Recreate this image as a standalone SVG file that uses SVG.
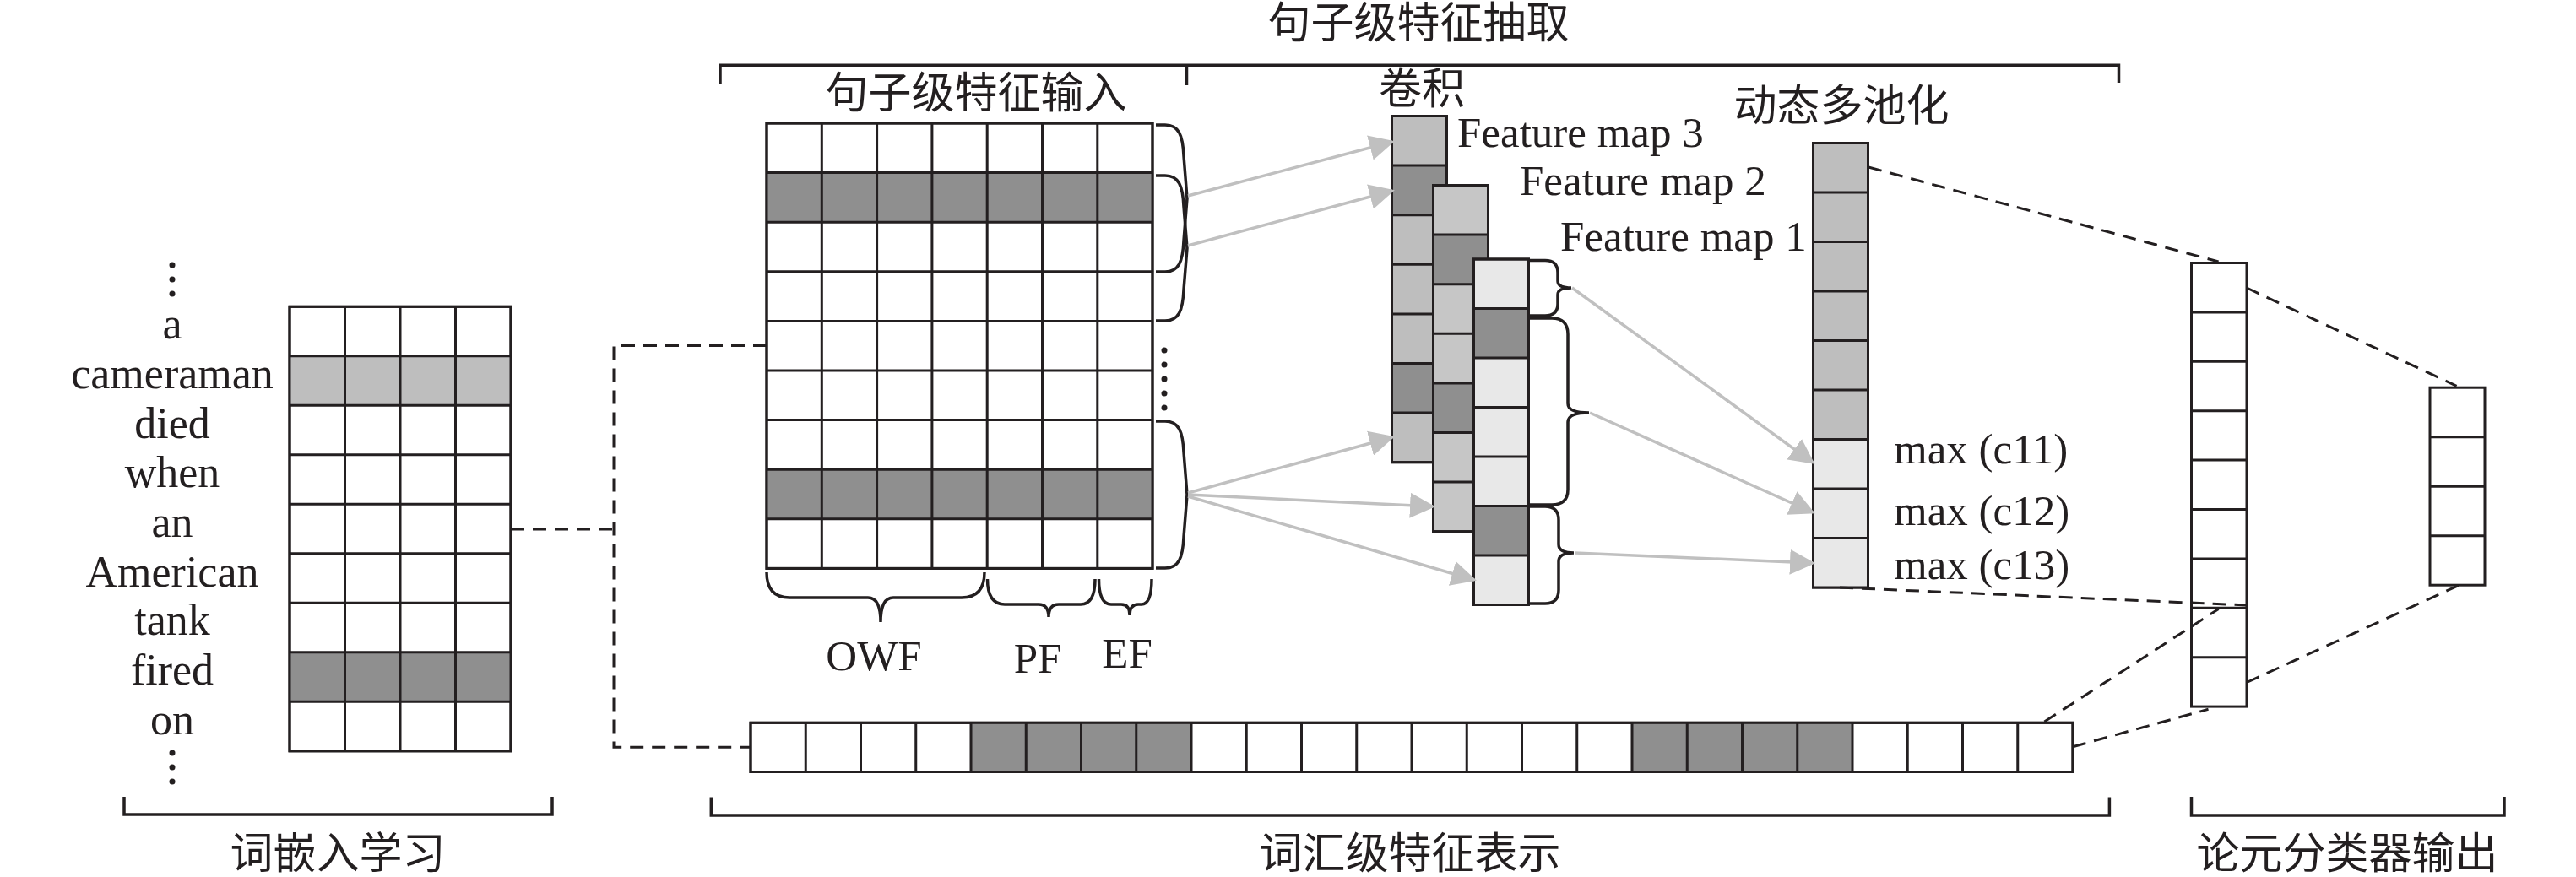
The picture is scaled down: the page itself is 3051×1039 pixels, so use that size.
<svg xmlns="http://www.w3.org/2000/svg" width="3051" height="1039" viewBox="0 0 3051 1039">
<style>
.box{fill:#fff;stroke:#231f20;stroke-width:3}
.ln{fill:none;stroke:#231f20;stroke-width:3}
.dk{fill:#8f8f8f}
.lt{fill:#bebebe}
.vl{fill:#e8e8e8}
.br{fill:none;stroke:#231f20;stroke-width:3.5}
.dash{fill:none;stroke:#231f20;stroke-width:3;stroke-dasharray:16 10}
.arr{fill:none;stroke:#c0c0c0;stroke-width:3.5;marker-end:url(#ah)}
.t{font-family:"Liberation Serif","Times New Roman",serif;font-size:51px;fill:#231f20}
.w{font-size:52px}
.c{font-family:"Noto Sans CJK SC","Noto Sans",sans-serif;font-size:51px;fill:#231f20}
.dot{fill:#231f20}
</style>
<defs>
<marker id="ah" viewBox="0 0 30 30" refX="27" refY="15" markerWidth="30" markerHeight="30" markerUnits="userSpaceOnUse" orient="auto">
<path d="M0,0 L30,15 L0,30 Z" fill="#c0c0c0"/>
</marker>
</defs>
<rect width="3051" height="1039" fill="#fff"/>

<!-- brackets and section titles -->
<g id="section-brackets">
<path class="br" d="M853,99 V77.3 H2509.5 V98 M1405.5,77.3 V101"/>
<path class="br" d="M147,944 V965 H654 V944"/>
<path class="br" d="M842.3,944.5 V966 H2498.4 V944.5"/>
<path class="br" d="M2595.5,944 V966 H2966 V944"/>
<text class="c" x="1680" y="45" text-anchor="middle">句子级特征抽取</text>
<text class="c" x="1156" y="127.5" text-anchor="middle">句子级特征输入</text>
<text class="c" x="1684" y="122.5" text-anchor="middle">卷积</text>
<text class="c" x="2181" y="142.5" text-anchor="middle">动态多池化</text>
<text class="c" x="400" y="1029" text-anchor="middle">词嵌入学习</text>
<text class="c" x="1670" y="1029" text-anchor="middle">词汇级特征表示</text>
<text class="c" x="2780" y="1029" text-anchor="middle">论元分类器输出</text>
</g>

<!-- word list -->
<g id="words">
<circle class="dot" cx="204" cy="314" r="3.5"/>
<circle class="dot" cx="204" cy="331" r="3.5"/>
<circle class="dot" cx="204" cy="348" r="3.5"/>
<text class="t w" x="204" y="401" text-anchor="middle">a</text>
<text class="t w" x="204" y="460" text-anchor="middle">cameraman</text>
<text class="t w" x="204" y="519" text-anchor="middle">died</text>
<text class="t w" x="204" y="577" text-anchor="middle">when</text>
<text class="t w" x="204" y="636" text-anchor="middle">an</text>
<text class="t w" x="204" y="695" text-anchor="middle">American</text>
<text class="t w" x="204" y="752" text-anchor="middle">tank</text>
<text class="t w" x="204" y="811" text-anchor="middle">fired</text>
<text class="t w" x="204" y="870" text-anchor="middle">on</text>
<circle class="dot" cx="204" cy="892" r="3.5"/>
<circle class="dot" cx="204" cy="909" r="3.5"/>
<circle class="dot" cx="204" cy="926" r="3.5"/>
</g>

<!-- word embedding grid -->
<g id="embedding-grid">
<rect class="box" x="343" y="363.3" width="262" height="526.5"/>
<rect class="lt" x="343" y="421.8" width="262" height="58.5"/>
<rect class="dk" x="343" y="772.8" width="262" height="58.5"/>
<path class="ln" d="M408.5,363.3 V889.8 M474,363.3 V889.8 M539.5,363.3 V889.8 M343,421.8 H605 M343,480.3 H605 M343,538.8 H605 M343,597.3 H605 M343,655.8 H605 M343,714.3 H605 M343,772.8 H605 M343,831.3 H605"/>
<rect class="ln" x="343" y="363.3" width="262" height="526.5"/>
</g>

<!-- sentence feature input grid -->
<g id="sentence-grid">
<rect class="box" x="908" y="146" width="457" height="527.4"/>
<rect class="dk" x="908" y="204.6" width="457" height="58.6"/>
<rect class="dk" x="908" y="556.2" width="457" height="58.6"/>
<path class="ln" d="M973.3,146 V673.4 M1038.6,146 V673.4 M1103.9,146 V673.4 M1169.2,146 V673.4 M1234.5,146 V673.4 M1299.8,146 V673.4 M908,204.6 H1365 M908,263.2 H1365 M908,321.8 H1365 M908,380.4 H1365 M908,439 H1365 M908,497.6 H1365 M908,556.2 H1365 M908,614.8 H1365"/>
<rect class="ln" x="908" y="146" width="457" height="527.4"/>
<path class="br" d="M1369,148 H1380 C1396,148 1401,160 1402,185 L1406,235 L1402,285 C1401,310 1396,322 1380,322 H1369"/>
<path class="br" d="M1369,208 H1380 C1396,208 1401,220 1402,245 L1406,294 L1402,343 C1401,368 1396,380 1380,380 H1369"/>
<path class="br" d="M1369,499 H1380 C1396,499 1401,511 1402,536 L1406,586 L1402,636 C1401,661 1396,673 1380,673 H1369"/>
<circle class="dot" cx="1379" cy="415" r="3.5"/>
<circle class="dot" cx="1379" cy="432" r="3.5"/>
<circle class="dot" cx="1379" cy="449" r="3.5"/>
<circle class="dot" cx="1379" cy="466" r="3.5"/>
<circle class="dot" cx="1379" cy="483" r="3.5"/>
<path class="br" d="M908,678 Q908,708 935,708 H1028 Q1043,708 1043,737 Q1043,708 1058,708 H1139 Q1166,708 1166,678"/>
<path class="br" d="M1169.5,686 Q1169.5,716 1190,716 H1230 Q1242,716 1242,731 Q1242,716 1254,716 H1280 Q1297,716 1297,686"/>
<path class="br" d="M1301.5,686 Q1301.5,716 1316,716 H1328 Q1338,716 1338,729 Q1338,716 1348,716 H1352 Q1364,716 1364,686"/>
<text class="t" x="1035" y="794" text-anchor="middle">OWF</text>
<text class="t" x="1229" y="797" text-anchor="middle">PF</text>
<text class="t" x="1335" y="791" text-anchor="middle">EF</text>
</g>

<!-- word-level feature sequence -->
<g id="lexical-sequence">
<rect class="box" x="889" y="856.3" width="1566" height="58.2"/>
<rect class="dk" x="1150" y="856.3" width="261" height="58.2"/>
<rect class="dk" x="1933" y="856.3" width="261" height="58.2"/>
<path class="ln" d="M954.25,856.3 V914.5 M1019.5,856.3 V914.5 M1084.75,856.3 V914.5 M1150,856.3 V914.5 M1215.25,856.3 V914.5 M1280.5,856.3 V914.5 M1345.75,856.3 V914.5 M1411,856.3 V914.5 M1476.25,856.3 V914.5 M1541.5,856.3 V914.5 M1606.75,856.3 V914.5 M1672,856.3 V914.5 M1737.25,856.3 V914.5 M1802.5,856.3 V914.5 M1867.75,856.3 V914.5 M1933,856.3 V914.5 M1998.25,856.3 V914.5 M2063.5,856.3 V914.5 M2128.75,856.3 V914.5 M2194,856.3 V914.5 M2259.25,856.3 V914.5 M2324.5,856.3 V914.5 M2389.75,856.3 V914.5"/>
<rect class="ln" x="889" y="856.3" width="1566" height="58.2"/>
</g>

<!-- feature maps -->
<g id="feature-map-3">
<rect class="box" x="1648.5" y="137.5" width="65" height="410.2" style="fill:#bebebe"/>
<rect class="dk" x="1648.5" y="196.1" width="65" height="58.6"/>
<rect class="dk" x="1648.5" y="430.5" width="65" height="58.6"/>
<path class="ln" d="M1648.5,196.1 H1713.5 M1648.5,254.7 H1713.5 M1648.5,313.3 H1713.5 M1648.5,371.9 H1713.5 M1648.5,430.5 H1713.5 M1648.5,489.1 H1713.5"/>
<rect class="ln" x="1648.5" y="137.5" width="65" height="410.2"/>
<text class="t" x="1726" y="174">Feature map 3</text>
</g>
<g id="feature-map-2">
<rect class="box" x="1697.5" y="219.5" width="65" height="410.2" style="fill:#c6c6c6"/>
<rect class="dk" x="1697.5" y="278.1" width="65" height="58.6"/>
<rect class="dk" x="1697.5" y="453.9" width="65" height="58.6"/>
<path class="ln" d="M1697.5,278.1 H1762.5 M1697.5,336.7 H1762.5 M1697.5,395.3 H1762.5 M1697.5,453.9 H1762.5 M1697.5,512.5 H1762.5 M1697.5,571.1 H1762.5"/>
<rect class="ln" x="1697.5" y="219.5" width="65" height="410.2"/>
<text class="t" x="1800" y="231">Feature map 2</text>
</g>
<g id="feature-map-1">
<rect class="box" x="1745.5" y="307" width="65" height="409.5" style="fill:#e8e8e8"/>
<rect class="dk" x="1745.5" y="365.5" width="65" height="58.5"/>
<rect class="dk" x="1745.5" y="599.5" width="65" height="58.5"/>
<path class="ln" d="M1745.5,365.5 H1810.5 M1745.5,424 H1810.5 M1745.5,482.5 H1810.5 M1745.5,541 H1810.5 M1745.5,599.5 H1810.5 M1745.5,658 H1810.5"/>
<rect class="ln" x="1745.5" y="307" width="65" height="409.5"/>
<text class="t" x="1848" y="297">Feature map 1</text>
<path class="br" d="M1811,308.5 H1830 Q1845,308.5 1845,323 V333 Q1845,341 1861,341 Q1845,341 1845,349 V360 Q1845,374 1830,374 H1811"/>
<path class="br" d="M1811,377 H1838 Q1857,377 1857,396 V478 Q1857,489 1882,489 Q1857,489 1857,500 V580 Q1857,598 1838,598 H1811"/>
<path class="br" d="M1811,600 H1830 Q1846,600 1846,616 V645 Q1846,655 1864,655 Q1846,655 1846,665 V699 Q1846,715 1830,715 H1811"/>
</g>

<!-- dynamic multi-pooling -->
<g id="pooling">
<rect class="box" x="2147.5" y="169.5" width="65" height="526.5" style="fill:#bebebe"/>
<rect class="vl" x="2147.5" y="520.5" width="65" height="175.5"/>
<path class="ln" d="M2147.5,228 H2212.5 M2147.5,286.5 H2212.5 M2147.5,345 H2212.5 M2147.5,403.5 H2212.5 M2147.5,462 H2212.5 M2147.5,520.5 H2212.5 M2147.5,579 H2212.5 M2147.5,637.5 H2212.5"/>
<rect class="ln" x="2147.5" y="169.5" width="65" height="526.5"/>
<text class="t" x="2243" y="549">max (c11)</text>
<text class="t" x="2243" y="622">max (c12)</text>
<text class="t" x="2243" y="686">max (c13)</text>
</g>

<!-- hidden vector -->
<g id="hidden-vector">
<rect class="box" x="2595.5" y="311.5" width="65.5" height="525.6"/>
<path class="ln" d="M2595.5,369.9 H2661 M2595.5,428.3 H2661 M2595.5,486.7 H2661 M2595.5,545.1 H2661 M2595.5,603.5 H2661 M2595.5,661.9 H2661 M2595.5,720.3 H2661 M2595.5,778.7 H2661"/>
</g>

<!-- output vector -->
<g id="output-vector">
<rect class="box" x="2878" y="459.2" width="65" height="234"/>
<path class="ln" d="M2878,517.7 H2943 M2878,576.2 H2943 M2878,634.7 H2943"/>
</g>

<!-- connectors -->
<g id="connectors">
<path class="dash" d="M605,627 H727"/>
<path class="dash" d="M908,409.5 H727 V885.3 H889"/>
<path class="dash" d="M2213,198 L2627.6,310"/>
<path class="dash" d="M2179,696 L2661,717"/>
<path class="dash" d="M2661,341 L2909.6,457.3"/>
<path class="dash" d="M2661,808.5 L2912.6,693.2"/>
<path class="dash" d="M2421.4,855 L2627.6,721.5"/>
<path class="dash" d="M2455,884.7 L2615.5,840.3"/>
<path class="arr" d="M1407,232 L1649,168"/>
<path class="arr" d="M1407,291 L1649,226"/>
<path class="arr" d="M1407,584 L1649,518"/>
<path class="arr" d="M1407,586 L1697,600"/>
<path class="arr" d="M1407,588 L1746,687"/>
<path class="arr" d="M1862,341 L2147,548"/>
<path class="arr" d="M1883,489 L2147,607"/>
<path class="arr" d="M1865,655 L2147,667"/>
</g>
</svg>
